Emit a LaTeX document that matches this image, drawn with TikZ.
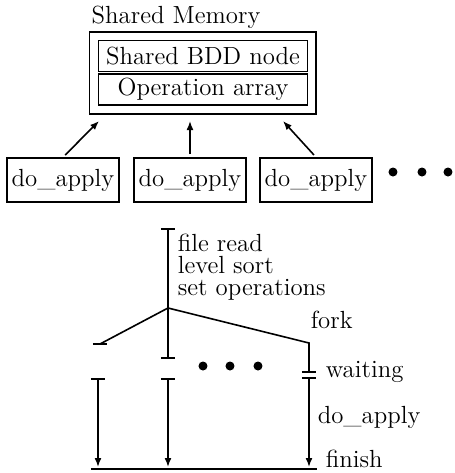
\documentclass[tikz,border=0pt]{standalone}
\usepackage{amsmath}
\usepackage{tikz}
\usetikzlibrary{positioning, calc, fit, arrows.meta}

\newcommand{\timetick}[1]{\draw ([xshift=-3.5pt]#1) -- ([xshift=3.5pt]#1);}

\begin{document}
\begin{tikzpicture}[x=0.5pt, y=-0.5pt, line width=0.8pt,
		every node/.style={font=\fontsize{12.4}{11}\selectfont},
		part/.style={draw, minimum width=104.5pt, minimum height=15.5pt, inner sep=1.5pt},
		proc/.style={draw, minimum width=56pt, minimum height=22pt, inner sep=2pt},
		upto/.style={-{Latex[length=4.5pt,width=3.5pt]}},
		lbl/.style={anchor=base west, inner sep=0pt},
		blob/.style={circle, fill, inner sep=0pt, minimum size=4.5pt}]
	\useasboundingbox (0,0) rectangle (455,473);

	% shared memory
	\node[part] (bdd) at (203,56) {Shared BDD node};
	\node[part] (ops) at (203,89.5) {Operation array};
	\node[draw, fit=(bdd)(ops), inner sep=4pt] (mem) {};
	\node[anchor=south west, inner sep=1pt] (memtitle) at (mem.north west) {Shared Memory};

	% workers
	\node[proc] (p1) at (63,180) {do\_apply};
	\node[proc] (p2) at (190,180) {do\_apply};
	\node[proc] (p3) at (316,180) {do\_apply};
	\foreach \x [count=\i] in {393,422,448}
		\node[blob] (more\i) at (\x,172) {};

	\coordinate (m1) at (99,121);
	\coordinate (m2) at (190,121);
	\coordinate (m3) at (283,121);
	\draw[upto, shorten <=1.5pt] (p1.north) -- (m1);
	\draw[upto, shorten <=1.5pt] (p2.north) -- (m2);
	\draw[upto, shorten <=1.5pt] (p3.north) -- (m3);

	% time line
	\coordinate (start) at (168,229);
	\coordinate (fork) at (168,308);
	\coordinate (forkl) at (100,344);
	\coordinate (forkr) at (309,343);
	\coordinate (stopm) at (168,358);
	\coordinate (waitr) at (309,372);
	\coordinate (resl) at (98,379);
	\coordinate (resm) at (168,379);
	\coordinate (resr) at (309,378);
	\coordinate (endl) at (98,467);
	\coordinate (endm) at (168,467);
	\coordinate (endr) at (309,467);
	\coordinate (finl) at (91,469);
	\coordinate (finr) at (317,469);

	\draw (start) -- (fork) -- (stopm);
	\draw (forkl) -- (fork) -- (forkr) -- (waitr);
	\timetick{start} \timetick{forkl} \timetick{stopm} \timetick{waitr}
	\timetick{resl} \timetick{resm} \timetick{resr}
	\draw[upto] (resl) -- (endl);
	\draw[upto] (resm) -- (endm);
	\draw[upto] (resr) -- (endr);
	\draw (finl) -- (finr);

	\foreach \x [count=\i] in {203,230,258}
		\node[blob] (par\i) at (\x,366) {};

	\node[anchor=north west, inner sep=0pt, align=left] (phases) at (177,233)
		{file read\\level sort\\set operations};
	\node[lbl] (forklbl) at (310,328) {fork};
	\node[lbl] (waitlbl) at (325,377) {waiting};
	\node[lbl] (applylbl) at (317,423) {do\_apply};
	\node[lbl] (finlbl) at (325,467) {finish};
\end{tikzpicture}
\end{document}
